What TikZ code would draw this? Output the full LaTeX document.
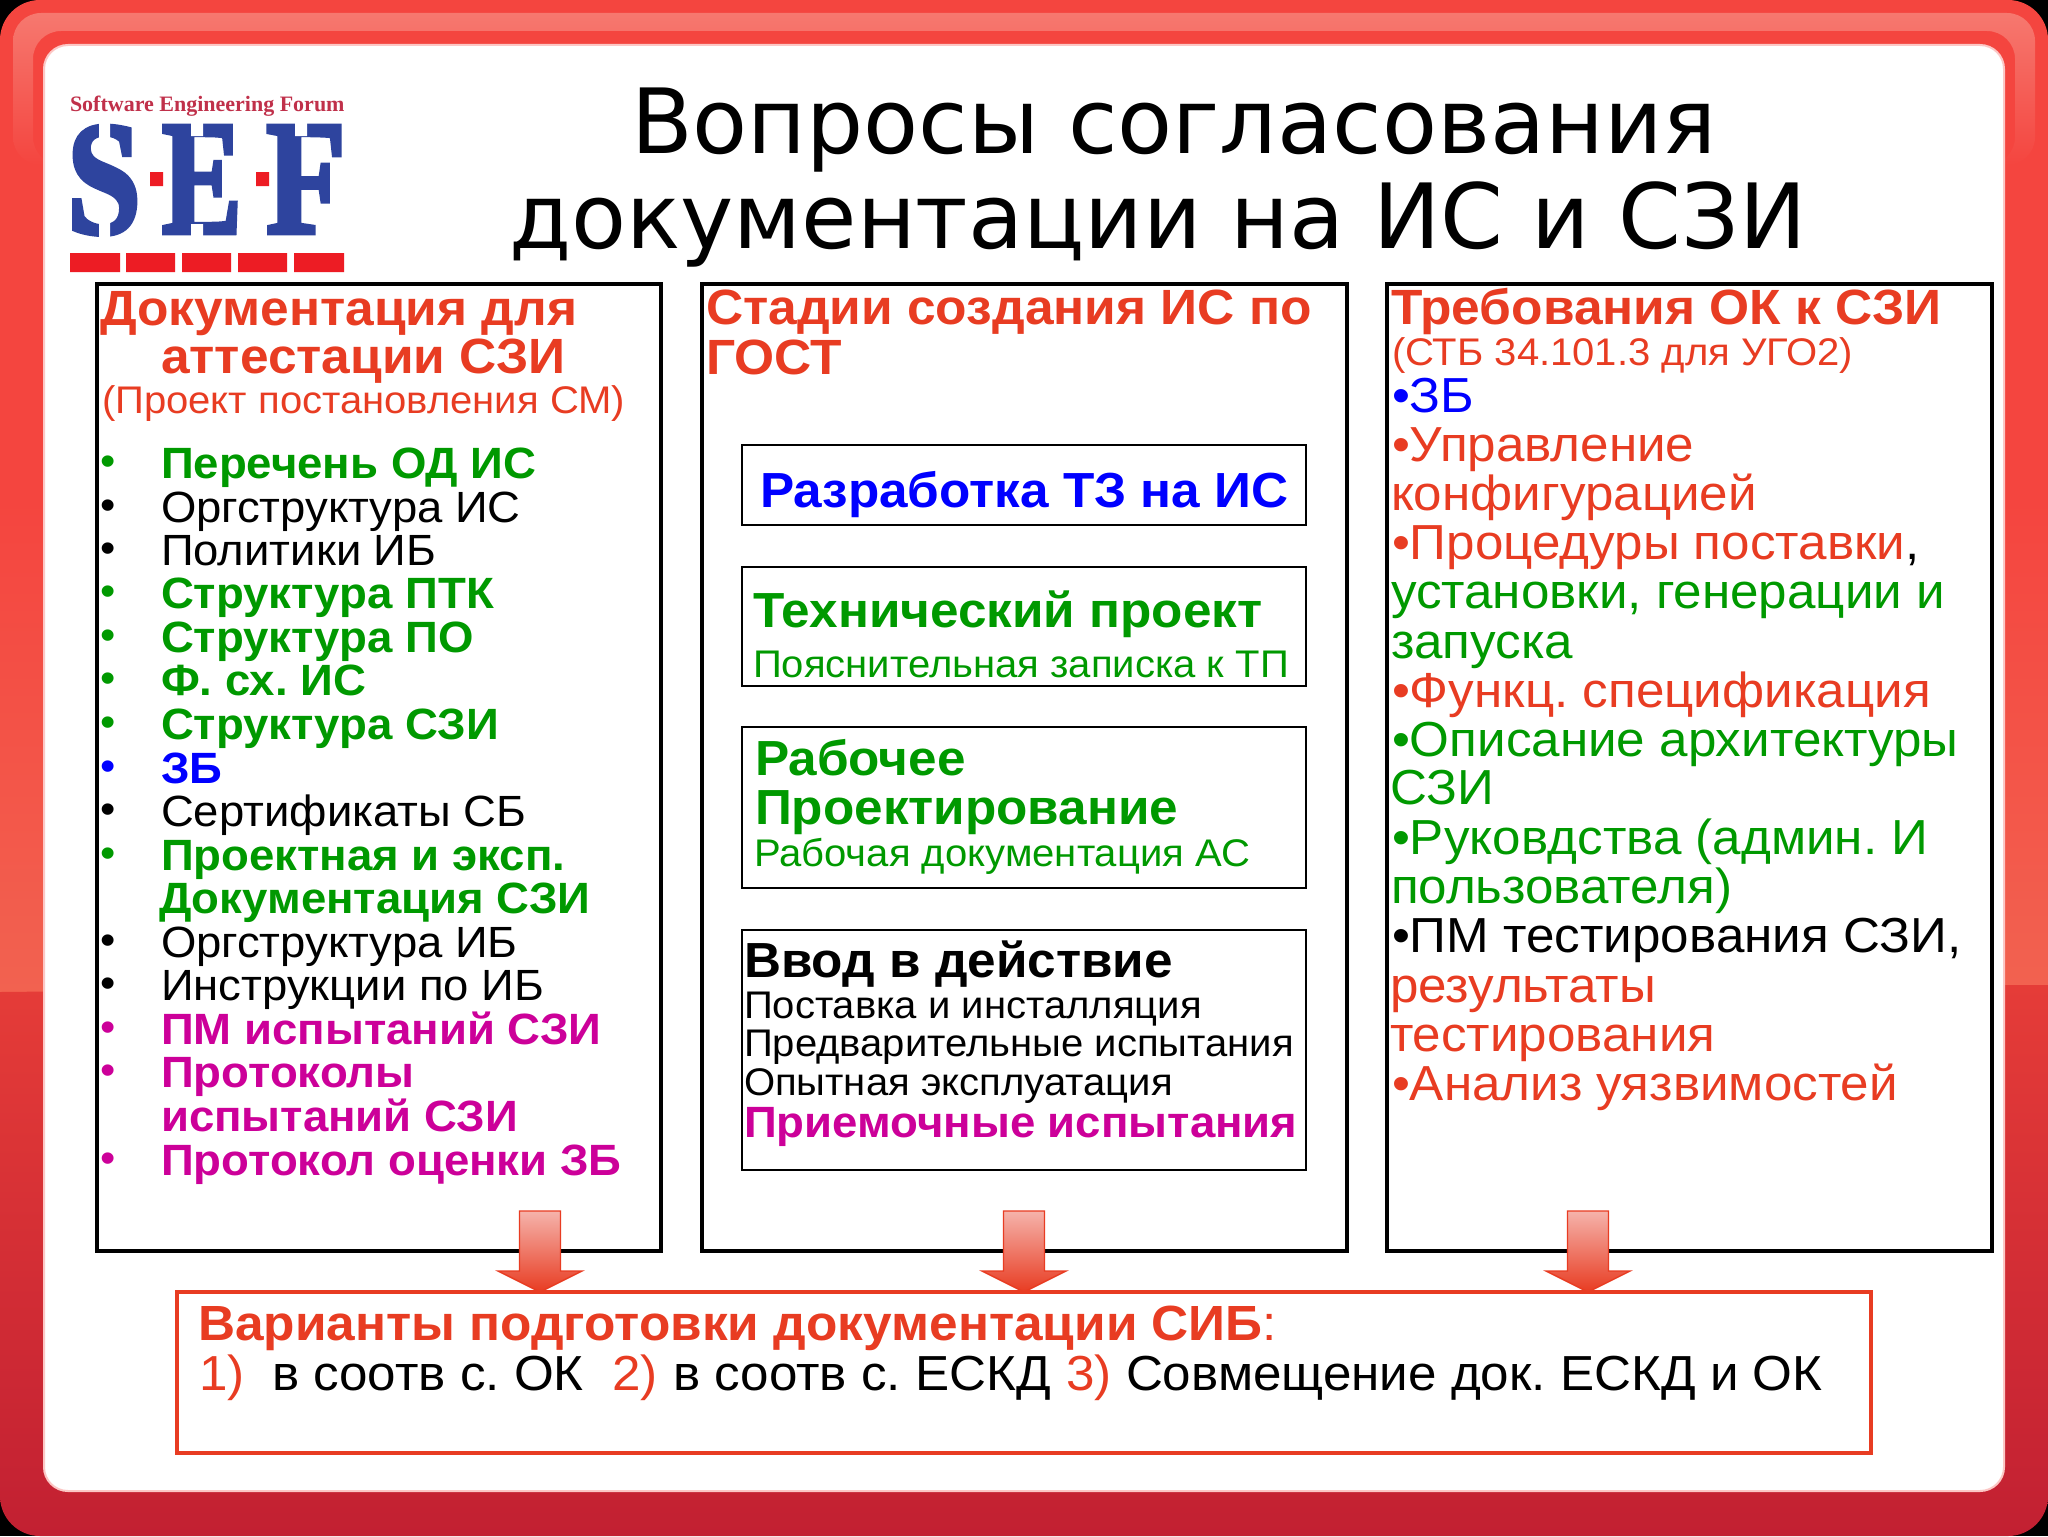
\documentclass[tikz,border=0pt]{standalone}
\usepackage{fontspec}
\setmainfont[FakeStretch=1.04]{Liberation Sans}
\newfontfamily\titlefont{DejaVu Sans}
\newfontfamily\logofont{Liberation Serif}
\newfontfamily\logoheavy[BoldFeatures={FakeBold=3}]{Liberation Serif}
\frenchspacing
\definecolor{redtxt}{HTML}{E83C22}
\definecolor{greentxt}{HTML}{009900}
\definecolor{bluetxt}{HTML}{0000FF}
\definecolor{magtxt}{HTML}{CC0099}
\definecolor{logoblue}{HTML}{2E449E}
\definecolor{logored}{HTML}{ED1C24}
\definecolor{logotxt}{HTML}{C0304A}
\definecolor{bgtop}{HTML}{F4453F}
\definecolor{bgmid}{HTML}{F26250}
\definecolor{bglow}{HTML}{E53C38}
\definecolor{bgbot}{HTML}{C22032}
\definecolor{hilite}{HTML}{F6786F}
\definecolor{arrowtop}{HTML}{F5B3AB}
\newcommand\fs[1]{\fontsize{\the\dimexpr#1pt/2\relax}{\the\dimexpr#1pt/2\relax}\selectfont}
\tikzset{
  txt/.style={anchor=base west,inner sep=0pt,outer sep=0pt},
  titletxt/.style={txt,font=\titlefont\fs{90}},
  listb/.style={txt,font=\bfseries\fs{43.8}},
  listr/.style={txt,font=\fs{43.7}},
  bul/.style={anchor=base,inner sep=0pt,outer sep=0pt,font=\fs{42}},
  headb/.style={txt,font=\bfseries\fs{49.5},text=redtxt},
  rightr/.style={txt,font=\fs{49.2}},
  midb/.style={txt,font=\bfseries\fs{49.3}},
  midr/.style={txt,font=\fs{38.5}},
  subr/.style={txt,font=\fs{38.5},text=redtxt},
  logoletter/.style={anchor=north west,inner sep=0pt,outer sep=0pt,text=logoblue},
  outerbox/.style={draw=black,line width=2.25pt,fill=white},
  innerbox/.style={draw=black,line width=1.1pt,fill=white},
  redbox/.style={draw=redtxt,line width=2pt,fill=white},
  downarrow/.style={draw=redtxt,line width=0.7pt,top color=arrowtop,bottom color=redtxt},
}
\begin{document}
\begin{tikzpicture}[x=0.5pt,y=-0.5pt]
\useasboundingbox (0,0) rectangle (2048,1536);
% background
\fill[black] (0,0) rectangle (2048,1536);
\begin{scope}
\clip[rounded corners=20pt] (0,0) rectangle (2048,1536);
\fill[bgtop] (0,0) rectangle (2048,500);
\shade[top color=bgtop,bottom color=bgmid] (0,500) rectangle (2048,992);
\shade[top color=bglow,bottom color=bgbot] (0,992) .. controls (700,985) and (1500,985) .. (2048,985) -- (2048,1536) -- (0,1536) -- cycle;
\end{scope}
% top highlight
\shade[even odd rule,top color=hilite,bottom color=bgtop,rounded corners=14pt]
  (13,165) -- (13,13) -- (2035,13) -- (2035,165) -- cycle
  (33,165) -- (33,31) -- (2015,31) -- (2015,165) -- cycle;
% white panel
\draw[draw=white!70!bgtop,line width=1pt,fill=white,rounded corners=12pt] (44,45) rectangle (2004,1491);
% logo
\node[txt,font=\logofont\bfseries\fs{22},text=logotxt] (logot) at (70,112) {Software Engineering Forum};
\node[logoletter] (logos) at (67,126) {\resizebox{37pt}{53.5pt}{\logoheavy\bfseries S}};
\node[logoletter] (logoe) at (162,126) {\resizebox{40pt}{53.5pt}{\logoheavy\bfseries E}};
\node[logoletter] (logof) at (266,126) {\resizebox{40pt}{53.5pt}{\logoheavy\bfseries F}};
\fill[white] (99,122) rectangle (110,148) (99,212) rectangle (110,238) (191,122) rectangle (203,136) (191,224) rectangle (203,238) (295,122) rectangle (307,136);
\fill[logored] (150,172) rectangle (163,186) (256,172) rectangle (269,186);
\fill[logored] (70,253) rectangle (120,272) (126,253) rectangle (175,272) (182,253) rectangle (231,272) (238,253) rectangle (287,272) (294,253) rectangle (344,272);
% title
\node[titletxt] (title1) at (631,153) {Вопросы согласования};
\node[titletxt] (title2) at (509,248) {документации на ИС и СЗИ};
% column boxes
\draw[outerbox] (97,284) rectangle (661,1251);
\draw[outerbox] (702,284) rectangle (1347,1251);
\draw[outerbox] (1387,284) rectangle (1992,1251);
% left column
\node[headb] (l1) at (100,325) {Документация для};
\node[headb] (l2) at (161,373) {аттестации СЗИ};
\node[subr] (l3) at (102,413) {(Проект постановления СМ)};
\foreach \yy/\cc in {475/greentxt,519/black,562/black,605/greentxt,649/greentxt,692/greentxt,736/greentxt,780/bluetxt,823/black,867/greentxt,954/black,997/black,1041/magtxt,1084/magtxt,1172/magtxt}
  \node[bul,text=\cc] at (108,\yy) {•};
\node[listb,text=greentxt] (a1) at (161,478) {Перечень ОД ИС};
\node[listr] (a2) at (161,522) {Оргструктура ИС};
\node[listr] (a3) at (161,565) {Политики ИБ};
\node[listb,text=greentxt] (a4) at (161,608) {Структура ПТК};
\node[listb,text=greentxt] (a5) at (161,652) {Структура ПО};
\node[listb,text=greentxt] (a6) at (161,695) {Ф. сх. ИС};
\node[listb,text=greentxt] (a7) at (161,739) {Структура СЗИ};
\node[listb,text=bluetxt] (a8) at (161,783) {ЗБ};
\node[listr] (a9) at (161,826) {Сертификаты СБ};
\node[listb,text=greentxt] (a10) at (161,870) {Проектная и эксп.};
\node[listb,text=greentxt] (a11) at (159,913) {Документация СЗИ};
\node[listr] (a12) at (161,957) {Оргструктура ИБ};
\node[listr] (a13) at (161,1000) {Инструкции по ИБ};
\node[listb,text=magtxt] (a14) at (161,1044) {ПМ испытаний СЗИ};
\node[listb,text=magtxt] (a15) at (161,1087) {Протоколы};
\node[listb,text=magtxt] (a16) at (161,1131) {испытаний СЗИ};
\node[listb,text=magtxt] (a17) at (161,1175) {Протокол оценки ЗБ};
% middle column
\node[headb] (m1) at (706,324) {Стадии создания ИС по};
\node[headb] (m2) at (706,374) {ГОСТ};
\draw[innerbox] (742,445) rectangle (1306,525);
\draw[innerbox] (742,567) rectangle (1306,686);
\draw[innerbox] (742,727) rectangle (1306,888);
\draw[innerbox] (742,930) rectangle (1306,1170);
\node[midb,text=bluetxt] (b1) at (760,507) {Разработка ТЗ на ИС};
\node[midb,text=greentxt] (b2) at (753,627) {Технический проект};
\node[midr,text=greentxt] (b3) at (753,677) {Пояснительная записка к ТП};
\node[midb,text=greentxt] (b4) at (755,775) {Рабочее};
\node[midb,text=greentxt] (b5) at (755,824) {Проектирование};
\node[midr,text=greentxt] (b6) at (754,866) {Рабочая документация АС};
\node[midb,text=black] (b7) at (744,977) {Ввод в действие};
\node[midr] (b8) at (744,1018) {Поставка и инсталляция};
\node[midr] (b9) at (744,1056) {Предварительные испытания};
\node[midr] (b10) at (744,1095) {Опытная эксплуатация};
\node[txt,font=\bfseries\fs{43.8},text=magtxt] (b11) at (744,1137) {Приемочные испытания};
% right column
\node[headb] (r1) at (1391,324) {Требования ОК к СЗИ};
\node[subr] (r2) at (1392,365) {(СТБ 34.101.3 для УГО2)};
\node[rightr,text=bluetxt] (r3) at (1392,412) {•ЗБ};
\node[rightr,text=redtxt] (r4) at (1392,461) {•Управление};
\node[rightr,text=redtxt] (r5) at (1391,510) {конфигурацией};
\node[rightr,text=redtxt] (r6) at (1392,559) {•Процедуры поставки\textcolor{black}{,}};
\node[rightr,text=greentxt] (r7) at (1391,608) {установки, генерации и};
\node[rightr,text=greentxt] (r8) at (1391,658) {запуска};
\node[rightr,text=redtxt] (r9) at (1392,707) {•Функц. спецификация};
\node[rightr,text=greentxt] (r10) at (1392,756) {•Описание архитектуры};
\node[rightr,text=greentxt] (r11) at (1390,804) {СЗИ};
\node[rightr,text=greentxt] (r12) at (1392,854) {•Руковдства (админ. И};
\node[rightr,text=greentxt] (r13) at (1391,903) {пользователя)};
\node[rightr] (r14) at (1392,952) {•ПМ тестирования СЗИ,};
\node[rightr,text=redtxt] (r15) at (1390,1002) {результаты};
\node[rightr,text=redtxt] (r16) at (1390,1051) {тестирования};
\node[rightr,text=redtxt] (r17) at (1392,1100) {•Анализ уязвимостей};
% bottom box
\draw[redbox] (177,1292) rectangle (1871,1453);
\node[txt,font=\fs{49.4},text=redtxt] (v1) at (198,1340) {\textbf{Варианты подготовки документации СИБ}:};
\node[rightr,text=redtxt] (v2) at (199,1390) {1)};
\node[rightr] (v3) at (272,1390) {в соотв с. ОК};
\node[rightr,text=redtxt] (v4) at (612,1390) {2)};
\node[rightr] (v5) at (673,1390) {в соотв с. ЕСКД};
\node[rightr,text=redtxt] (v6) at (1066,1390) {3)};
\node[rightr] (v7) at (1126,1390) {Совмещение док. ЕСКД и ОК};
% arrows
\foreach \cx in {540,1024,1588}
  \draw[downarrow] (\cx-20.5,1211) -- (\cx+20.5,1211) -- (\cx+20.5,1271) -- (\cx+42,1271) -- (\cx,1292) -- (\cx-42,1271) -- (\cx-20.5,1271) -- cycle;
\end{tikzpicture}
\end{document}
